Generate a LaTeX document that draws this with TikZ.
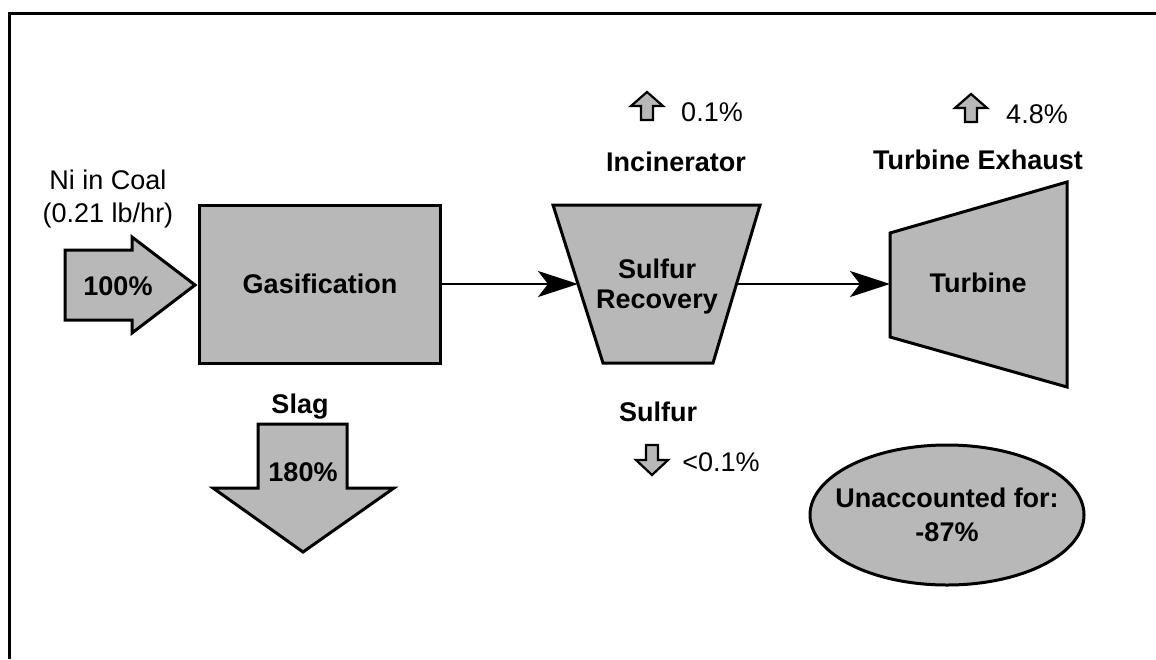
\documentclass[tikz,border=0pt]{standalone}
\usepackage{fontspec}
\setmainfont{Liberation Sans}
\usetikzlibrary{shapes.geometric,arrows.meta}
\tikzset{
  unit/.style={draw, line width=3pt, fill=black!28, line join=miter},
  txt/.style={font=\fontsize{27}{32}\selectfont, inner sep=0pt},
  btxt/.style={font=\fontsize{27}{32}\selectfont\bfseries, inner sep=0pt},
  flow/.style={line width=2.5pt, -{Stealth[length=40pt,width=26pt,inset=10pt]}},
  pics/upflow/.style={code={\draw[unit, line width=2.2pt] (-16,0) -- (0,-14) -- (16,0) -- (6,0) -- (6,14) -- (-6,14) -- (-6,0) -- cycle;}},
  pics/downflow/.style={code={\draw[unit, line width=2.2pt] (-16,0) -- (0,15) -- (16,0) -- (6,0) -- (6,-15) -- (-6,-15) -- (-6,0) -- cycle;}}
}
\begin{document}
\begin{tikzpicture}[x=1pt, y=-1pt]
	\useasboundingbox (0,0) rectangle (1156,659);
	\draw[line width=3pt] (9,659) -- (9,13) -- (1156,13);
	% coal feed
	\node[txt] (coal) at (108,180) {Ni in Coal};
	\node[txt] (rate) at (108,216) {(0.21 lb/hr)};
	\draw[unit] (65,250) -- (132,250) -- (132,237) -- (195,285) -- (132,333) -- (132,320) -- (65,320) -- cycle;
	\node[btxt] (feed) at (118,286) {100\%};
	% gasifier and slag
	\node[unit, btxt, minimum width=241pt, minimum height=158pt] (gasif) at (320,284) {Gasification};
	\node[btxt] (slag) at (300,407) {Slag};
	\draw[unit] (258,424) -- (347,424) -- (347,488) -- (394,488) -- (303,552) -- (213,488) -- (258,488) -- cycle;
	\node[btxt] (slagpc) at (303,472) {180\%};
	% sulfur recovery
	\draw[unit] (553,205) -- (760,205) -- (713,363) -- (603,363) -- cycle;
	\coordinate (srin) at (578,284);
	\coordinate (srout) at (736,284);
	\node[btxt, align=center] (srec) at (657,287) {Sulfur\\[-2pt]Recovery};
	\node[btxt] (incin) at (676,162) {Incinerator};
	\pic at (647,106) {upflow};
	\node[txt] (incinpc) at (712,112) {0.1\%};
	\node[btxt] (sulf) at (658,412) {Sulfur};
	\pic at (652,460) {downflow};
	\node[txt] (sulfpc) at (721,462) {<0.1\%};
	% turbine
	\draw[unit] (890,233) -- (1067,182) -- (1067,387) -- (890,337) -- cycle;
	\coordinate (tbin) at (890,284);
	\node[btxt] (turb) at (978,283) {Turbine};
	\node[btxt] (exh) at (978,160) {Turbine Exhaust};
	\pic at (971,108) {upflow};
	\node[txt] (exhpc) at (1037,114) {4.8\%};
	\draw[flow] (gasif.east) -- (srin);
	\draw[flow] (srout) -- (tbin);
	% balance
	\node[unit, ellipse, inner sep=0pt, minimum width=274pt, minimum height=140pt] (lost) at (947,515) {};
	\node[btxt, align=center] (lostpc) at (lost) {Unaccounted for:\\[2pt]-87\%};
\end{tikzpicture}
\end{document}
